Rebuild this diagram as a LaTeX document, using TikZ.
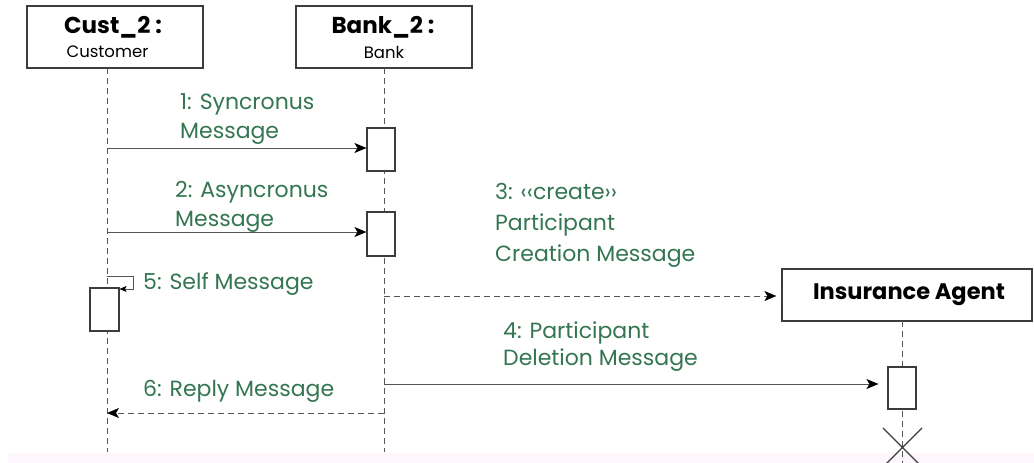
\documentclass[tikz,border=0pt]{standalone}
\usepackage{fontspec}
\setmainfont{Poppins}
\usetikzlibrary{arrows.meta}
\definecolor{msggreen}{RGB}{52,118,82}
\definecolor{linegray}{RGB}{85,85,85}
\definecolor{boxgray}{RGB}{60,60,60}
\definecolor{bandpink}{RGB}{253,247,253}
\tikzset{
  objbox/.style={draw=boxgray, line width=1.2pt, fill=white, inner sep=0pt},
  actbox/.style={draw=boxgray, line width=1.1pt, fill=white, inner sep=0pt, minimum width=28pt},
  lifeline/.style={draw=linegray, line width=0.9pt, dash pattern=on 6pt off 4pt},
  msg/.style={draw=linegray, line width=1pt, -{Stealth[length=12pt,width=10pt,inset=3pt,color=black]}},
  retmsg/.style={msg, dash pattern=on 6pt off 4pt},
  lbl/.style={text=msggreen, anchor=north west, inner sep=0pt, align=left, font=\fontsize{22}{29}\selectfont},
  title/.style={inner sep=0pt, font=\bfseries\fontsize{23}{26}\selectfont},
  subtitle/.style={inner sep=0pt, font=\fontsize{16.5}{18}\selectfont},
}
\begin{document}
\begin{tikzpicture}[x=1pt,y=-1pt]
\useasboundingbox (0,0) rectangle (1034,463);
\fill[white] (0,0) rectangle (1034,463);
\fill[bandpink] (8,453) rectangle (1034,463);

% participants
\node[objbox, minimum width=176pt, minimum height=62pt] (cust) at (115,37) {};
\node[title] (custname) at (113,27) {Cust\_2 :};
\node[subtitle] (custtype) at (107.5,52) {Customer};
\node[objbox, minimum width=176pt, minimum height=62pt] (bank) at (384,37) {};
\node[title] (bankname) at (383,27) {Bank\_2 :};
\node[subtitle] (banktype) at (384,52) {Bank};

% lifelines
\coordinate (custtop) at (107,68);
\coordinate (custbot) at (107,452);
\coordinate (banktop) at (384,68);
\coordinate (bankbot) at (384,452);
\draw[lifeline] (custtop) -- (custbot);
\draw[lifeline] (banktop) -- (bankbot);

% insurance agent
\node[objbox, minimum width=250pt, minimum height=52pt] (ins) at (907,295) {};
\node[title, font=\bfseries\fontsize{22.5}{25}\selectfont] (insname) at (909,295) {Insurance Agent};
\coordinate (instop) at (902,321);
\coordinate (insbot) at (902,463);
\draw[lifeline] (instop) -- (insbot);

% activations
\node[actbox, minimum height=43pt] (act1) at (381,149.5) {};
\node[actbox, minimum height=44pt] (act2) at (381,234) {};
\node[actbox, minimum width=29pt, minimum height=43pt] (actself) at (104.5,309.5) {};
\node[actbox, minimum height=42pt] (act4) at (902,388) {};

% destruction
\coordinate (xa) at (883,428);
\coordinate (xb) at (922,467);
\coordinate (xc) at (922,428);
\coordinate (xd) at (883,467);
\draw[boxgray, line width=1.1pt] (xa) -- (xb) (xc) -- (xd);

% messages
\coordinate (m1s) at (107,148);
\draw[msg] (m1s) -- (m1s -| act1.west);
\coordinate (m2s) at (107,232);
\draw[msg] (m2s) -- (m2s -| act2.west);
\coordinate (m3s) at (384,296);
\draw[retmsg, shorten >=5pt] (m3s) -- (m3s -| ins.west);
\coordinate (m4s) at (384,384);
\draw[msg, shorten >=9pt] (m4s) -- (m4s -| act4.west);
\coordinate (m5s) at (107,276);
\coordinate (m5c) at (133,276);
\coordinate (m5d) at (133,289);
\draw[msg, -{Stealth[length=7pt,width=6pt,inset=1.5pt,color=black]}] (m5s) -- (m5c) -- (m5d) -- (m5d -| actself.east);
\coordinate (m6s) at (384,413);
\draw[retmsg] (m6s) -- (m6s -| custbot);

% labels
\node[lbl] (l1) at (180,93) {1: Syncronus\\Message};
\node[lbl] (l2) at (175,181) {2: Asyncronus\\Message};
\node[lbl, font=\fontsize{22}{31}\selectfont] (l3) at (495,183) {3: ‹‹create››\\Participant\\Creation Message};
\node[lbl, font=\fontsize{22}{27}\selectfont] (l4) at (503,322) {4: Participant\\Deletion Message};
\node[lbl] (l5) at (143,272) {5: Self Message};
\node[lbl] (l6) at (143,380) {6: Reply Message};
\end{tikzpicture}
\end{document}
